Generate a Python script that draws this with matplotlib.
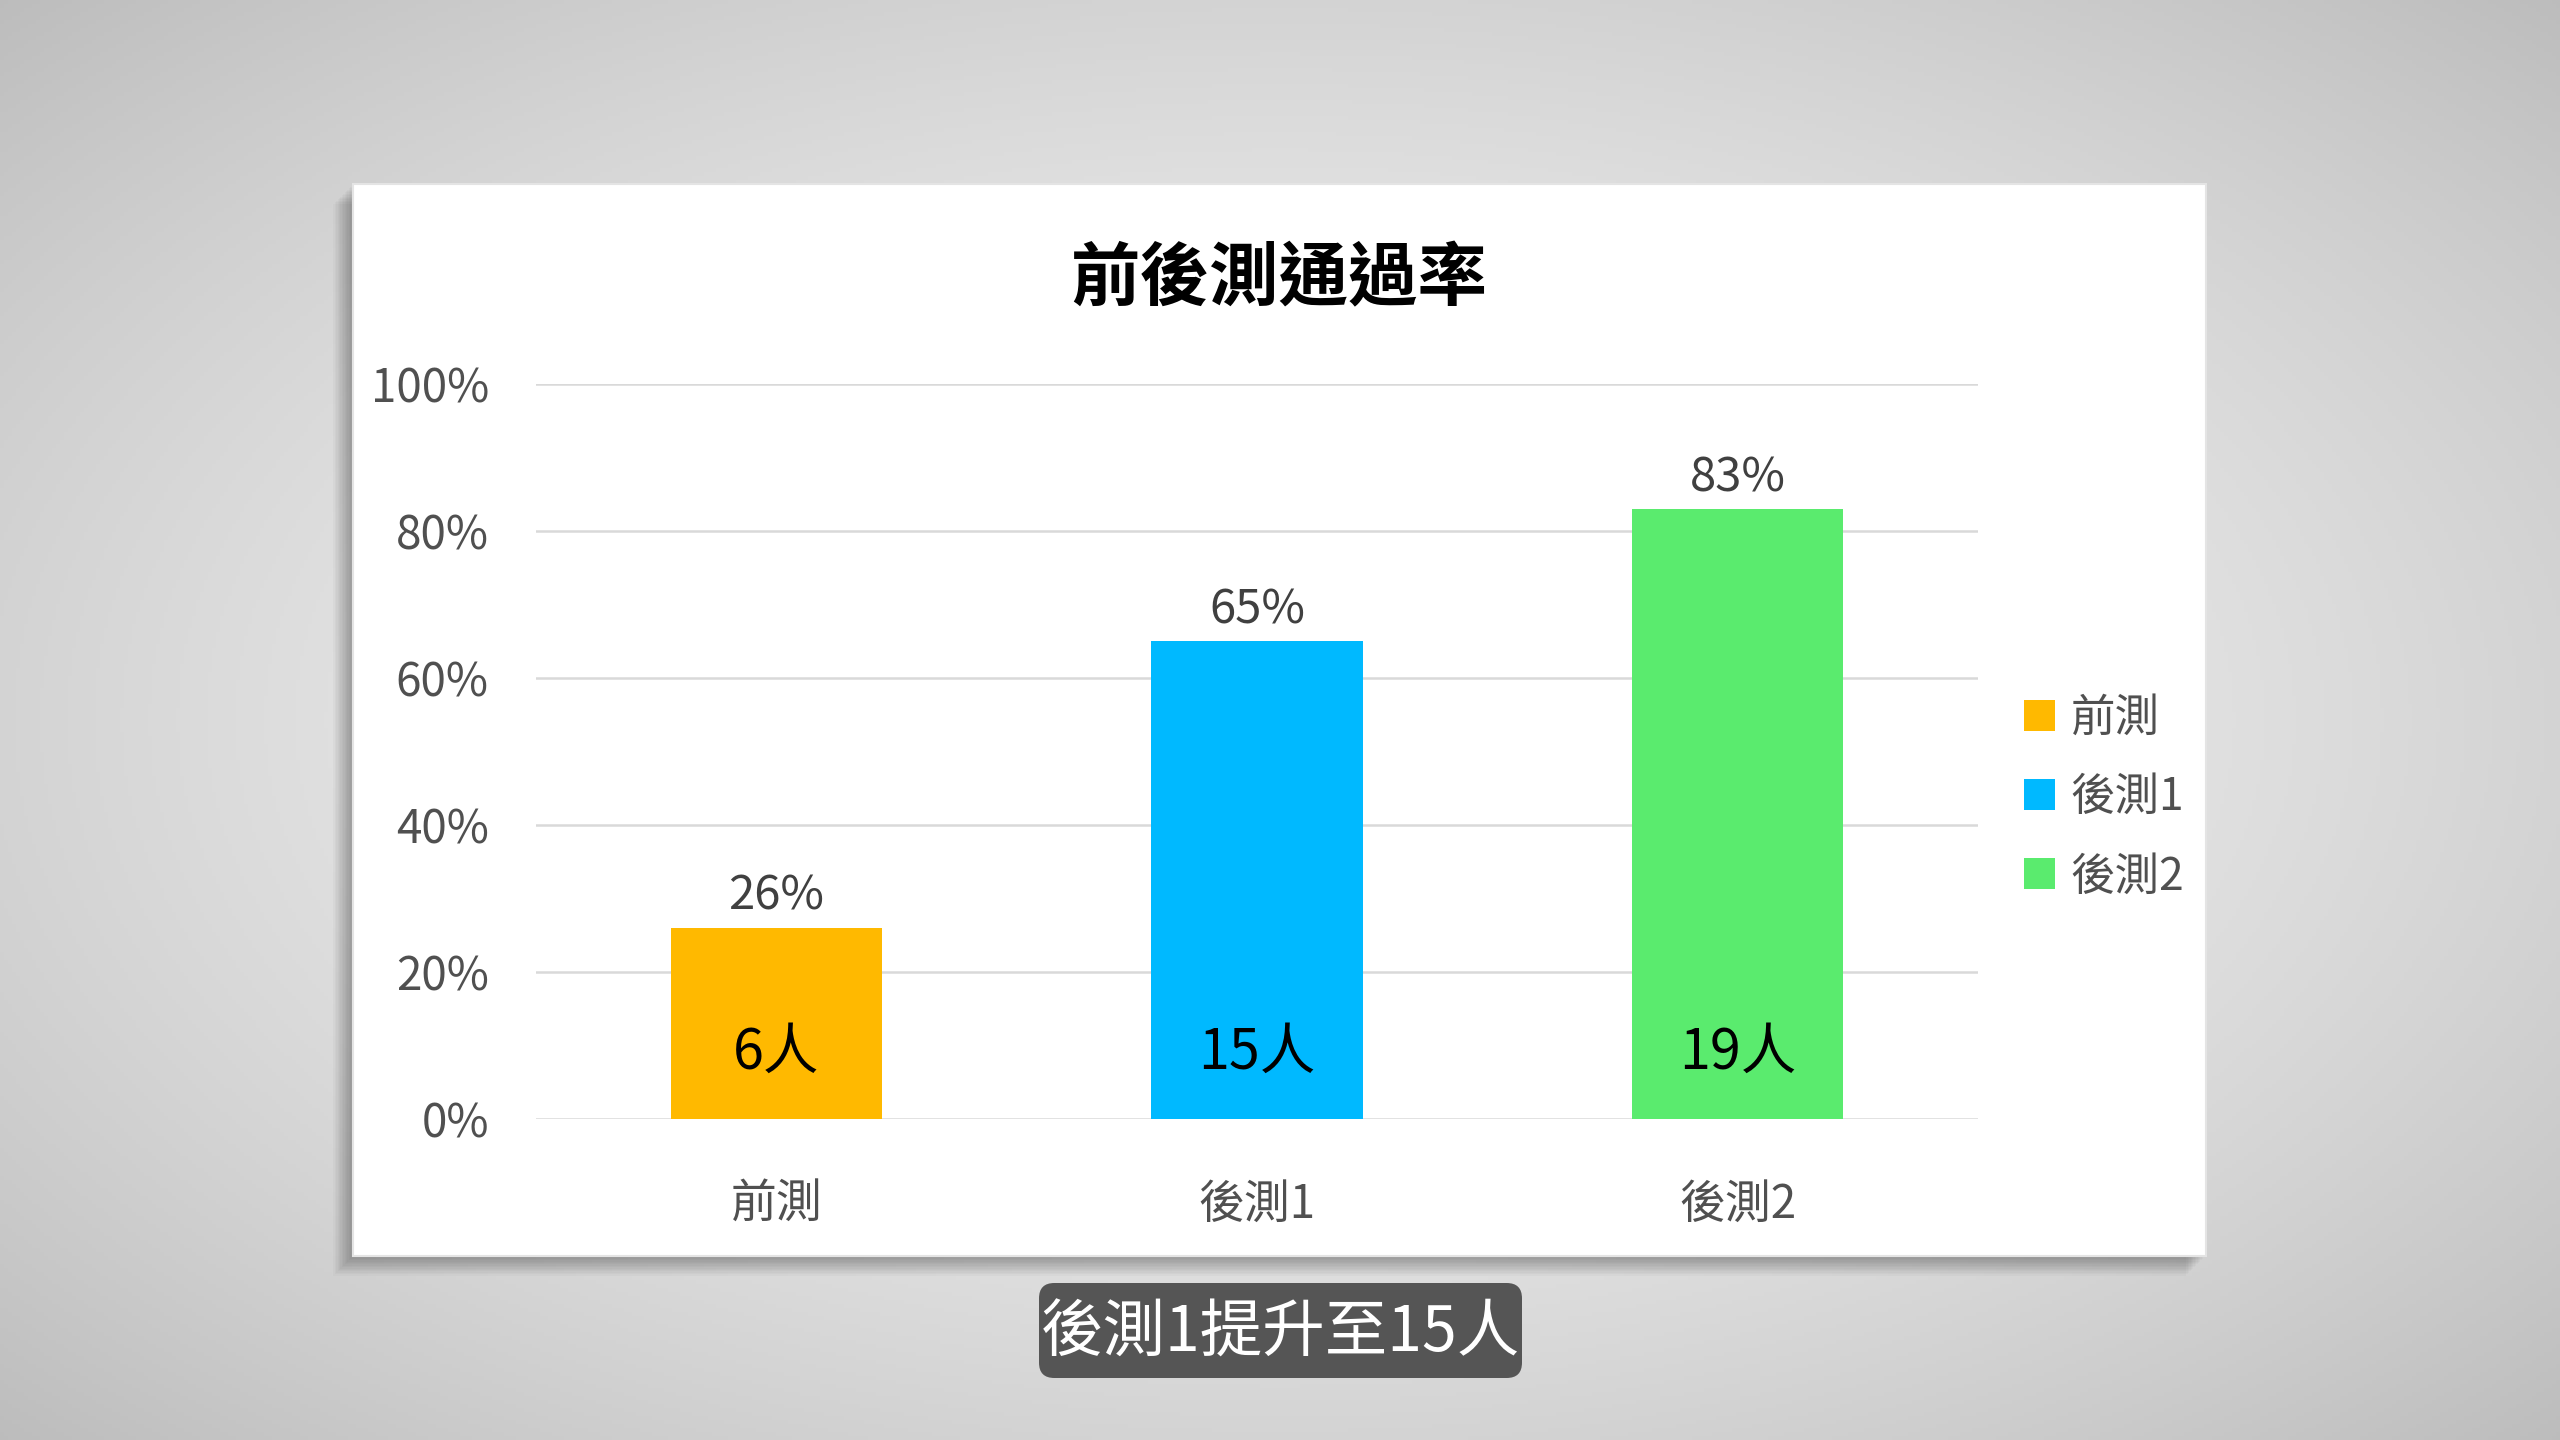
import numpy as np
import matplotlib
matplotlib.use('Agg')
import matplotlib.pyplot as plt
from matplotlib.patches import Rectangle, FancyBboxPatch

plt.rcParams['font.family'] = ['Noto Sans CJK TC', 'DejaVu Sans']

# data
categories = ['前測', '後測1', '後測2']
rates = [0.26, 0.65, 0.83]
counts = ['6人', '15人', '19人']
colors = ['#FFB900', '#00B9FF', '#5AEB6E']
yticks = [0, 0.2, 0.4, 0.6, 0.8, 1.0]
title = '前後測通過率'
caption = '後測1提升至15人'

W, H = 2560, 1440
fig = plt.figure(figsize=(W / 100, H / 100), dpi=100)

# background radial gradient
bg = fig.add_axes([0, 0, 1, 1])
yy, xx = np.mgrid[0:1:360j, 0:1:640j]
r = np.sqrt(((xx - 0.5) / 0.62) ** 2 + ((yy - 0.5) / 0.62) ** 2)
shade = np.clip(0.95 - 0.17 * r ** 1.6, 0, 1)
bg.imshow(np.dstack([shade] * 3), extent=[0, 1, 0, 1], aspect='auto', origin='lower')
bg.set_xlim(0, 1)
bg.set_ylim(0, 1)
bg.axis('off')

# white panel with soft shadow (left/bottom)
px0, px1 = 353 / W, 2206 / W
py0, py1 = 1 - 1256 / H, 1 - 184 / H
for i in range(14):
    off = (i + 1) * 1.4
    bg.add_patch(Rectangle((px0 - off / W, py0 - off / H), px1 - px0, py1 - py0,
                           facecolor='black', edgecolor='none', alpha=0.022, zorder=1))
bg.add_patch(Rectangle((px0, py0), px1 - px0, py1 - py0, facecolor='white',
                       edgecolor='#e4e4e4', linewidth=1.5, zorder=2))

# chart title
fig.text(1279 / W, 1 - 280 / H, title, ha='center', va='center', fontsize=50,
         fontweight='bold', color='black')

# bar chart
ax = fig.add_axes([536 / W, 1 - 1119 / H, (1978 - 536) / W, (1119 - 384) / H])
ax.set_facecolor('none')
x = np.arange(len(categories))
bars = ax.bar(x, rates, width=0.44, color=colors, zorder=3)
ax.set_xlim(-0.5, len(categories) - 0.5)
ax.set_ylim(0, 1)
ax.set_yticks(yticks)
ax.set_yticklabels([f'{int(round(v * 100))}%' for v in yticks])
ax.yaxis.grid(True, color='#d9d9d9', linewidth=1.8, zorder=0)
ax.set_axisbelow(True)
for s in ax.spines.values():
    s.set_visible(False)
ax.tick_params(axis='y', length=0, pad=34, labelsize=33, labelcolor='#505050')
ax.set_xticks(x)
ax.set_xticklabels(categories)
ax.tick_params(axis='x', length=0, pad=44, labelsize=33, labelcolor='#505050')

for xi, v, c in zip(x, rates, counts):
    ax.annotate(f'{int(round(v * 100))}%', (xi, v), xytext=(0, 5),
                textcoords='offset points', ha='center', va='bottom',
                fontsize=34, color='#404040')
    ax.text(xi, 0.09, c, ha='center', va='center', fontsize=40, color='black', zorder=4)

# legend
handles = [Rectangle((0, 0), 1, 1, facecolor=c) for c in colors]
leg = fig.legend(handles, categories, loc='center left',
                 bbox_to_anchor=(1984 / W, 1 - 797 / H), frameon=False,
                 fontsize=32, handlelength=0.7, handleheight=0.7,
                 handletextpad=0.35, labelspacing=0.75)
for t in leg.get_texts():
    t.set_color('#505050')

# caption box
cx0, cx1 = 1039 / W, 1522 / W
cy0, cy1 = 1 - 1378 / H, 1 - 1283 / H
bg.add_patch(FancyBboxPatch((cx0, cy0), cx1 - cx0, cy1 - cy0,
                            boxstyle='round,pad=0,rounding_size=0.006',
                            facecolor='#555555', edgecolor='none', zorder=5,
                            mutation_aspect=W / H))
bg.text((cx0 + cx1) / 2, (cy0 + cy1) / 2 - 0.002, caption, ha='center', va='center',
        fontsize=45, fontweight='light', color='white', zorder=6)

fig.savefig('out.png', dpi=100)
